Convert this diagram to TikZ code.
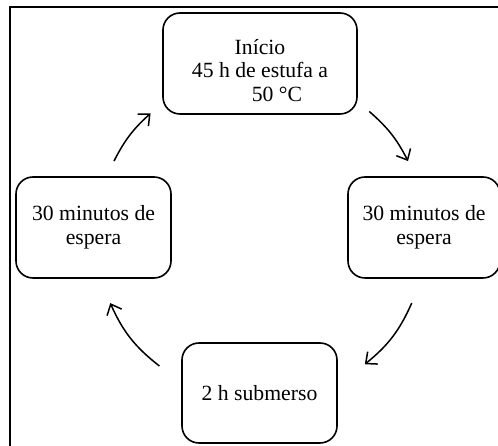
\documentclass[tikz,border=0pt]{standalone}
\usepackage{fontspec}
\setmainfont{Liberation Serif}
\usepackage{tikz}
\usetikzlibrary{arrows.meta}

\begin{document}
\begin{tikzpicture}[x=1pt, y=1pt,
    etapa/.style={draw, rectangle, rounded corners=17pt, line width=1.6pt, align=center, inner sep=0pt, font=\fontsize{21.7}{23.5}\selectfont},
    ciclo/.style={-{Straight Barb[length=9pt, width=16pt]}, line width=1.5pt}]
    \useasboundingbox (0,0) rectangle (498,446);
    \clip (0,0) rectangle (498,446);
    \draw[line width=1.3pt] (10,-10) rectangle (510,439);

    \node[etapa, minimum width=194pt, minimum height=101pt] (inicio) at (260,382.5) {\rule{0pt}{29pt}Início\\45 h de estufa a\\\hspace*{34pt}50 °C};
    \node[etapa, minimum width=152pt, minimum height=101pt] (espera1) at (424,218.5) {30 minutos de\\espera};
    \node[etapa, minimum width=155pt, minimum height=100pt] (submerso) at (259.5,53) {2 h submerso};
    \node[etapa, minimum width=155pt, minimum height=101pt] (espera2) at (93.5,218.5) {30 minutos de\\espera};

    % arrow ends lie on one circle round the middle
    \coordinate (c) at (261,210);
    \coordinate (s1) at ([shift={(c)}] 49:165);
    \coordinate (e1) at ([shift={(c)}] 27:165);
    \coordinate (s2) at ([shift={(c)}] -24:165);
    \coordinate (e2) at ([shift={(c)}] -51:165);
    \coordinate (s3) at ([shift={(c)}] 232:165);
    \coordinate (e3) at ([shift={(c)}] 204:165);
    \coordinate (s4) at ([shift={(c)}] 153:165);
    \coordinate (e4) at ([shift={(c)}] 132:165);

    \draw[ciclo] (s1) to[bend left=11] (e1);
    \draw[ciclo] (s2) to[bend left=13.5] (e2);
    \draw[ciclo] (s3) to[bend left=14] (e3);
    \draw[ciclo] (s4) to[bend left=10.5] (e4);
\end{tikzpicture}
\end{document}
